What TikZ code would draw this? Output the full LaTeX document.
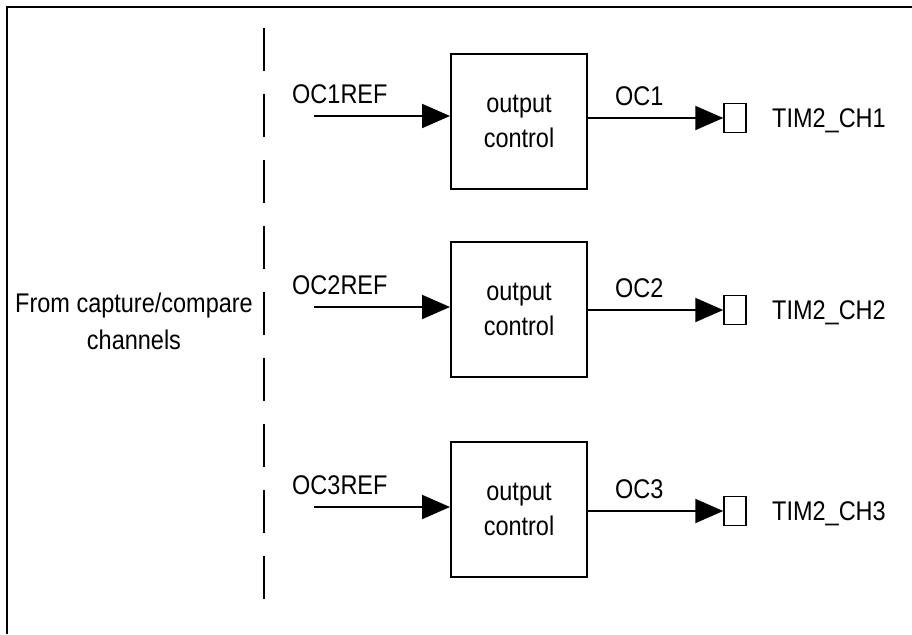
\documentclass[tikz,border=0pt]{standalone}
\usepackage{fontspec}
\setmainfont[FakeStretch=0.87]{Liberation Sans}
\usetikzlibrary{arrows.meta}
\begin{document}
\begin{tikzpicture}[x=1pt,y=-1pt,
  txt/.style={font=\fontsize{27}{36}\selectfont, inner sep=0pt},
  box/.style={txt, draw, line width=2pt, minimum width=136pt, minimum height=135pt, align=center, font=\fontsize{27}{35}\selectfont},
  port/.style={draw, line width=1.5pt, minimum width=22pt, minimum height=29pt, inner sep=0pt},
  sig/.style={line width=2pt, -{Triangle[length=28pt,width=24pt]}},
  frame/.style={line width=2pt},
  sep/.style={line width=2pt, dash pattern=on 43pt off 23pt}]
\useasboundingbox (0,0) rectangle (912,634);
% frame
\coordinate (fbl) at (7,634);
\coordinate (ftl) at (7,7);
\coordinate (ftr) at (912,7);
\draw[frame] (fbl) -- (ftl) -- (ftr);
% separator
\coordinate (s1) at (264,28);
\coordinate (s2) at (264,599);
\draw[sep] (s1) -- (s2);
\node[txt, align=center, font=\fontsize{27}{37}\selectfont] (src) at (134,321) {From capture/compare\\channels};
% rows
\foreach \i/\top/\yin/\yout in {1/54/116/118, 2/242/307/310, 3/442/507/511}{
  \node[box] (box\i) at (519,\top+67.5) {output\\control};
  \coordinate (in\i) at (314,\yin);
  \node[port] (port\i) at (735,\yout) {};
  \coordinate (out\i) at (587,\yout);
  \draw[sig] (in\i) -- (in\i -| box\i.west);
  \draw[sig] (out\i) -- (port\i.west);
  \node[txt, anchor=base west] (ref\i) at (292,\yin-13) {OC\i REF};
  \node[txt, anchor=base west] (oc\i) at (615,\yout-13) {OC\i};
  \node[txt, anchor=base west] (tim\i) at (772,\yout+9) {TIM2\_CH\i};
}
\end{tikzpicture}
\end{document}
